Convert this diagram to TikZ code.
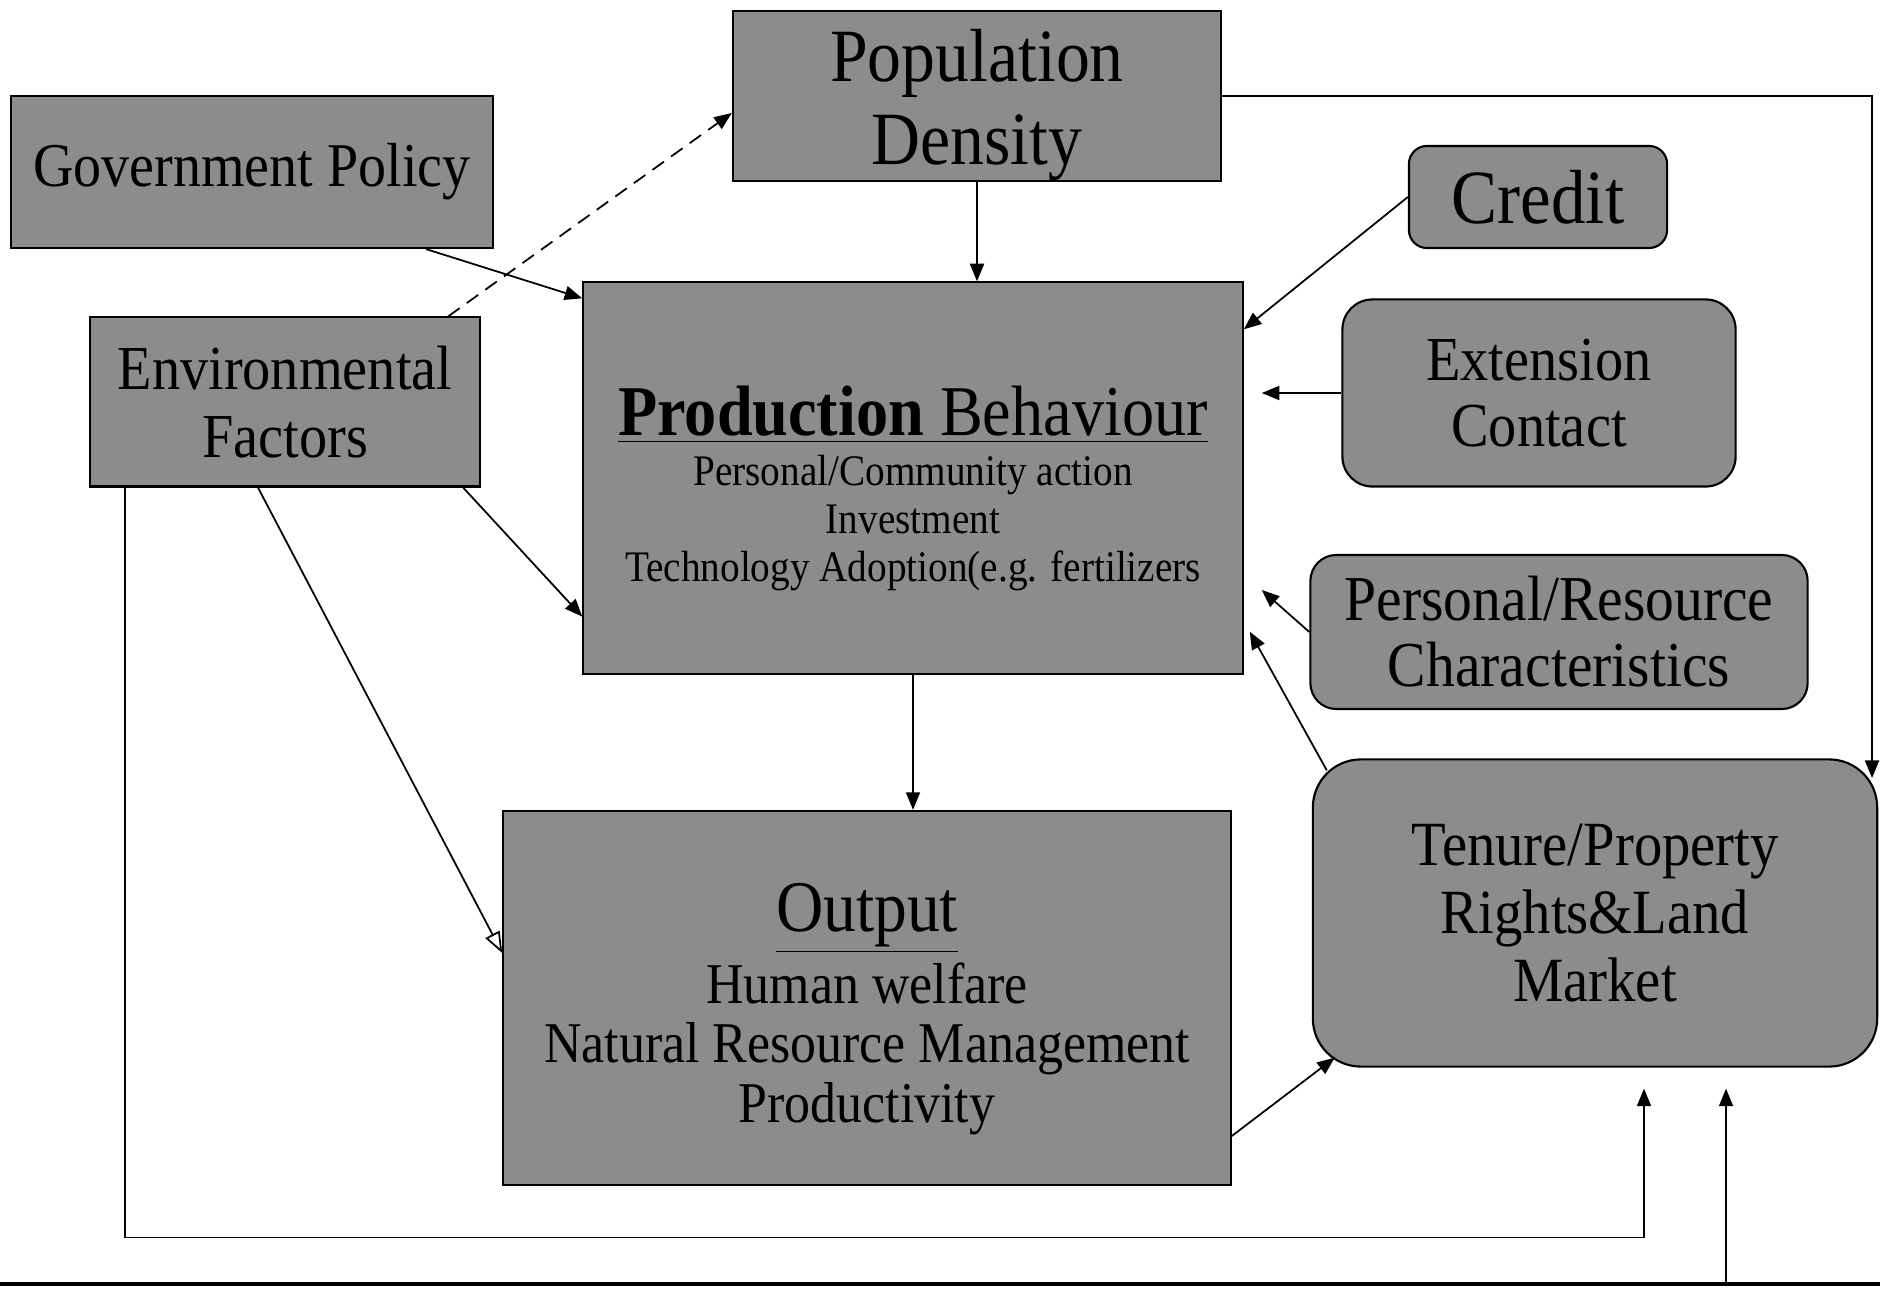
\documentclass[tikz,border=0pt]{standalone}
\usepackage{fontspec}
\setmainfont{Liberation Serif}[FakeStretch=0.9]
\usetikzlibrary{arrows.meta,calc}

\begin{document}
\begin{tikzpicture}[x=0.01cm, y=-0.01cm,
    box/.style={draw, line width=0.6pt, fill=black!45, align=center, inner sep=0pt},
    roundbox/.style={box, rounded corners=#1},
    link/.style={-{Triangle[length=5pt,width=4pt]}, line width=0.5pt},
    openlink/.style={-{Triangle[open,length=6pt,width=4.5pt]}, line width=0.5pt}]
\useasboundingbox (0,0) rectangle (1880,1289);
% square boxes
\node[box, minimum width=4.88cm, minimum height=1.68cm,
    font=\fontsize{21.4}{23.5}\selectfont] (pop) at (977,96) {\rule{0pt}{20pt}Population\\Density};
\node[box, minimum width=4.81cm, minimum height=1.52cm,
    font=\fontsize{17.7}{20}\selectfont] (gov) at (252,172) {Government Policy};
\node[box, minimum width=3.90cm, minimum height=1.69cm,
    font=\fontsize{17.8}{19.4}\selectfont] (env) at (285,402) {Environmental\\Factors};
\node[box, minimum width=6.59cm, minimum height=3.91cm,
    font=\fontsize{12.4}{13.6}\selectfont] (prod) at (913,478)
    {{\fontsize{20.3}{22}\selectfont\rule{0pt}{20pt}\underline{\textbf{Production} Behaviour}}\\[0.6pt]
     Personal/Community action\\Investment\\Technology Adoption(e.g. fertilizers};
\node[box, minimum width=7.27cm, minimum height=3.74cm,
    font=\fontsize{16.4}{17}\selectfont] (out) at (867,998)
    {{\fontsize{20.7}{22}\selectfont\rule{0pt}{20pt}\underline{Output}}\\[1.5pt]
     Human welfare\\Natural Resource Management\\Productivity};
% rounded boxes
\node[roundbox=0.18cm, minimum width=2.58cm, minimum height=1.02cm,
    font=\fontsize{21.8}{22}\selectfont] (credit) at (1538,197) {Credit};
\node[roundbox=0.3cm, minimum width=3.93cm, minimum height=1.87cm,
    font=\fontsize{17.8}{18.8}\selectfont] (ext) at (1539,393) {Extension\\Contact};
\node[roundbox=0.26cm, minimum width=4.97cm, minimum height=1.54cm,
    font=\fontsize{18.2}{18.8}\selectfont] (pers) at (1559,632) {Personal/Resource\\Characteristics};
\node[roundbox=0.48cm, minimum width=5.64cm, minimum height=3.07cm,
    font=\fontsize{17.9}{19.4}\selectfont] (tenure) at (1595,913) {Tenure/Property\\Rights\&Land\\Market};
% free ends
\coordinate (corner) at (1872,778);
\coordinate (feed) at (1726,1284);
% page rule
\draw[line width=1.2pt] (0,1284) -- (1880,1284);
% connectors
\draw[link] (pop.south) -- (pop.south |- prod.north);
\draw[link] (pop.east) -| (corner);
\draw[link] ($(gov.south west)!0.86!(gov.south east)$) -- ($(prod.north west)+(0,17)$);
\draw[link, dash pattern=on 4pt off 2.5pt] ($(env.north east)+(-33,0)$) -- ($(pop.west)+(0,17)$);
\draw[link] ($(env.south east)+(-18,0)$) -- ($(prod.south west)+(0,-58)$);
\draw[openlink] ($(env.south)+(-27,0)$) -- ($(out.west)+(0,-45)$);
\draw[link] ($(env.south west)+(36,0)$) -- ++(0,750) -| ($(tenure.south)+(49,21)$);
\draw[link] (feed) -- ($(tenure.south)+(131,21)$);
\draw[link] (prod.south) -- (prod.south |- out.north);
\draw[link] (credit.west) -- ($(prod.north east)+(0,48)$);
\draw[link, shorten >=0.18cm] (ext.west) -- (ext.west -| prod.east);
\draw[link] (pers.west) -- ($(prod.east)+(18,112)$);
\draw[link] ($(tenure.north west)+(15,12)$) -- ($(prod.south east)+(6,-43)$);
\draw[link] ($(out.east)+(0,138)$) -- ($(tenure.south west)+(23,-10)$);
\end{tikzpicture}
\end{document}
